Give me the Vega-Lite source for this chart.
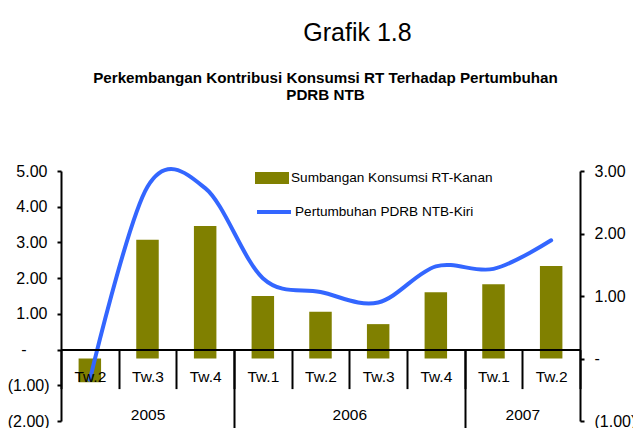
{
  "$schema": "https://vega.github.io/schema/vega-lite/v6.json",
  "width": 519,
  "height": 250,
  "autosize": {"type": "none"},
  "padding": {"left": 61, "top": 171, "right": 53, "bottom": 7},
  "background": "white",
  "title": {
    "text": "Grafik 1.8",
    "font": "Liberation Sans",
    "fontSize": 25,
    "fontWeight": "normal",
    "color": "black",
    "anchor": "middle",
    "frame": "group",
    "dx": 37,
    "offset": 24
  },
  "config": {"view": {"stroke": null}},
  "data": {
    "values": [
      {"q": "2005-Tw.2", "konsumsi": -0.38, "pdrb": -0.85},
      {"q": "2005-Tw.3", "konsumsi": 1.90, "pdrb": 4.56},
      {"q": "2005-Tw.4", "konsumsi": 2.12, "pdrb": 4.52},
      {"q": "2006-Tw.1", "konsumsi": 1.00, "pdrb": 2.00},
      {"q": "2006-Tw.2", "konsumsi": 0.75, "pdrb": 1.61},
      {"q": "2006-Tw.3", "konsumsi": 0.55, "pdrb": 1.32},
      {"q": "2006-Tw.4", "konsumsi": 1.06, "pdrb": 2.33},
      {"q": "2007-Tw.1", "konsumsi": 1.19, "pdrb": 2.26},
      {"q": "2007-Tw.2", "konsumsi": 1.48, "pdrb": 3.06}
    ]
  },
  "layer": [
    {
      "mark": {"type": "bar", "width": {"band": 0.39}},
      "encoding": {
        "x": {
          "field": "q",
          "type": "nominal",
          "sort": null,
          "scale": {"paddingInner": 0, "paddingOuter": 0},
          "axis": {
            "orient": "bottom",
            "offset": -71.4,
            "title": null,
            "domainColor": "black",
            "domainWidth": 2,
            "tickBand": "extent",
            "tickColor": "black",
            "tickWidth": 2,
            "tickSize": 39,
            "labelExpr": "datum.value ? substring(datum.value, 5) : ''",
            "labelFont": "Liberation Sans",
            "labelFontSize": 15.5,
            "labelColor": "black",
            "labelBaseline": "alphabetic",
            "labelPadding": -7,
            "labelAngle": 0,
            "zindex": 1
          }
        },
        "y": {
          "field": "konsumsi",
          "type": "quantitative",
          "scale": {"domain": [-1, 3], "nice": false, "zero": false},
          "axis": {
            "orient": "right",
            "values": [-1, 0, 1, 2, 3],
            "labelExpr": "datum.value == 0 ? '-' : datum.value < 0 ? '(' + format(-datum.value, '.2f') + ')' : format(datum.value, '.2f')",
            "title": null,
            "grid": false,
            "domainColor": "black",
            "domainWidth": 2,
            "tickColor": "black",
            "tickWidth": 2,
            "tickSize": 4,
            "labelPadding": 10,
            "labelFont": "Liberation Sans",
            "labelFontSize": 16,
            "labelColor": "black"
          }
        },
        "fill": {
          "datum": "Sumbangan Konsumsi RT-Kanan",
          "type": "nominal",
          "scale": {"range": ["#808000"]},
          "legend": {
            "orient": "none",
            "legendX": 194,
            "legendY": -10,
            "title": null,
            "padding": 0,
            "symbolType": "M-1,-0.353H1V0.353H-1Z",
            "symbolSize": 1156,
            "symbolStrokeWidth": 0,
            "symbolOpacity": 1,
            "labelFont": "Liberation Sans",
            "labelFontSize": 13.6,
            "labelLimit": 400,
            "labelColor": "black",
            "labelOffset": 2
          }
        }
      }
    },
    {
      "mark": {"type": "line", "interpolate": "cardinal", "tension": 0, "strokeWidth": 4, "strokeCap": "round"},
      "encoding": {
        "x": {
          "field": "q",
          "type": "nominal",
          "sort": null,
          "axis": {
            "orient": "bottom",
            "offset": -71.4,
            "domain": false,
            "tickBand": "extent",
            "tickColor": "black",
            "tickWidth": 2,
            "tickSize": 80,
            "tickOpacity": {"condition": {"test": "datum.value === '2005-Tw.4' || datum.value === '2006-Tw.4'", "value": 1}, "value": 0},
            "labelExpr": "datum.value === '2005-Tw.3' ? '2005' : datum.value === '2006-Tw.2' ? '2006' : datum.value === '2007-Tw.1' ? '2007' : ''",
            "labelOffset": {"condition": {"test": "datum.value === '2006-Tw.2' || datum.value === '2007-Tw.1'", "value": 28.8}, "value": 0},
            "labelFont": "Liberation Sans",
            "labelFontSize": 15.5,
            "labelColor": "black",
            "labelBaseline": "alphabetic",
            "labelPadding": -10.6,
            "labelAngle": 0,
            "title": ["Perkembangan Kontribusi Konsumsi RT Terhadap Pertumbuhan", "PDRB NTB"],
            "titleX": 264,
            "titleY": -267.6,
            "titleAlign": "center",
            "titleAnchor": null,
            "titleBaseline": "alphabetic",
            "titleFont": "Liberation Sans",
            "titleFontSize": 15.2,
            "titleFontWeight": "bold",
            "titleLineHeight": 17.3,
            "titleLimit": 1000,
            "titleColor": "black"
          }
        },
        "y": {
          "field": "pdrb",
          "type": "quantitative",
          "scale": {"domain": [-2, 5], "nice": false, "zero": false},
          "axis": {
            "orient": "left",
            "values": [-2, -1, 0, 1, 2, 3, 4, 5],
            "labelExpr": "datum.value == 0 ? '-' : datum.value < 0 ? '(' + format(-datum.value, '.2f') + ')' : format(datum.value, '.2f')",
            "title": null,
            "grid": false,
            "domainColor": "black",
            "domainWidth": 2,
            "tickColor": "black",
            "tickWidth": 2,
            "tickSize": 4,
            "labelPadding": {"condition": [{"test": "datum.value == 0", "value": 31}, {"test": "datum.value < 0", "value": 8}], "value": 10},
            "labelFont": "Liberation Sans",
            "labelFontSize": 16,
            "labelColor": "black"
          }
        },
        "stroke": {
          "datum": "Pertumbuhan PDRB NTB-Kiri",
          "type": "nominal",
          "scale": {"range": ["#3366ff"]},
          "legend": {
            "orient": "none",
            "legendX": 194,
            "legendY": 22,
            "title": null,
            "padding": 0,
            "symbolType": "stroke",
            "symbolSize": 1156,
            "symbolStrokeWidth": 4,
            "labelFont": "Liberation Sans",
            "labelFontSize": 13.6,
            "labelLimit": 400,
            "labelColor": "black",
            "labelOffset": 2
          }
        }
      }
    }
  ],
  "resolve": {"scale": {"y": "independent", "fill": "independent", "stroke": "independent"}, "axis": {"x": "independent"}}
}
